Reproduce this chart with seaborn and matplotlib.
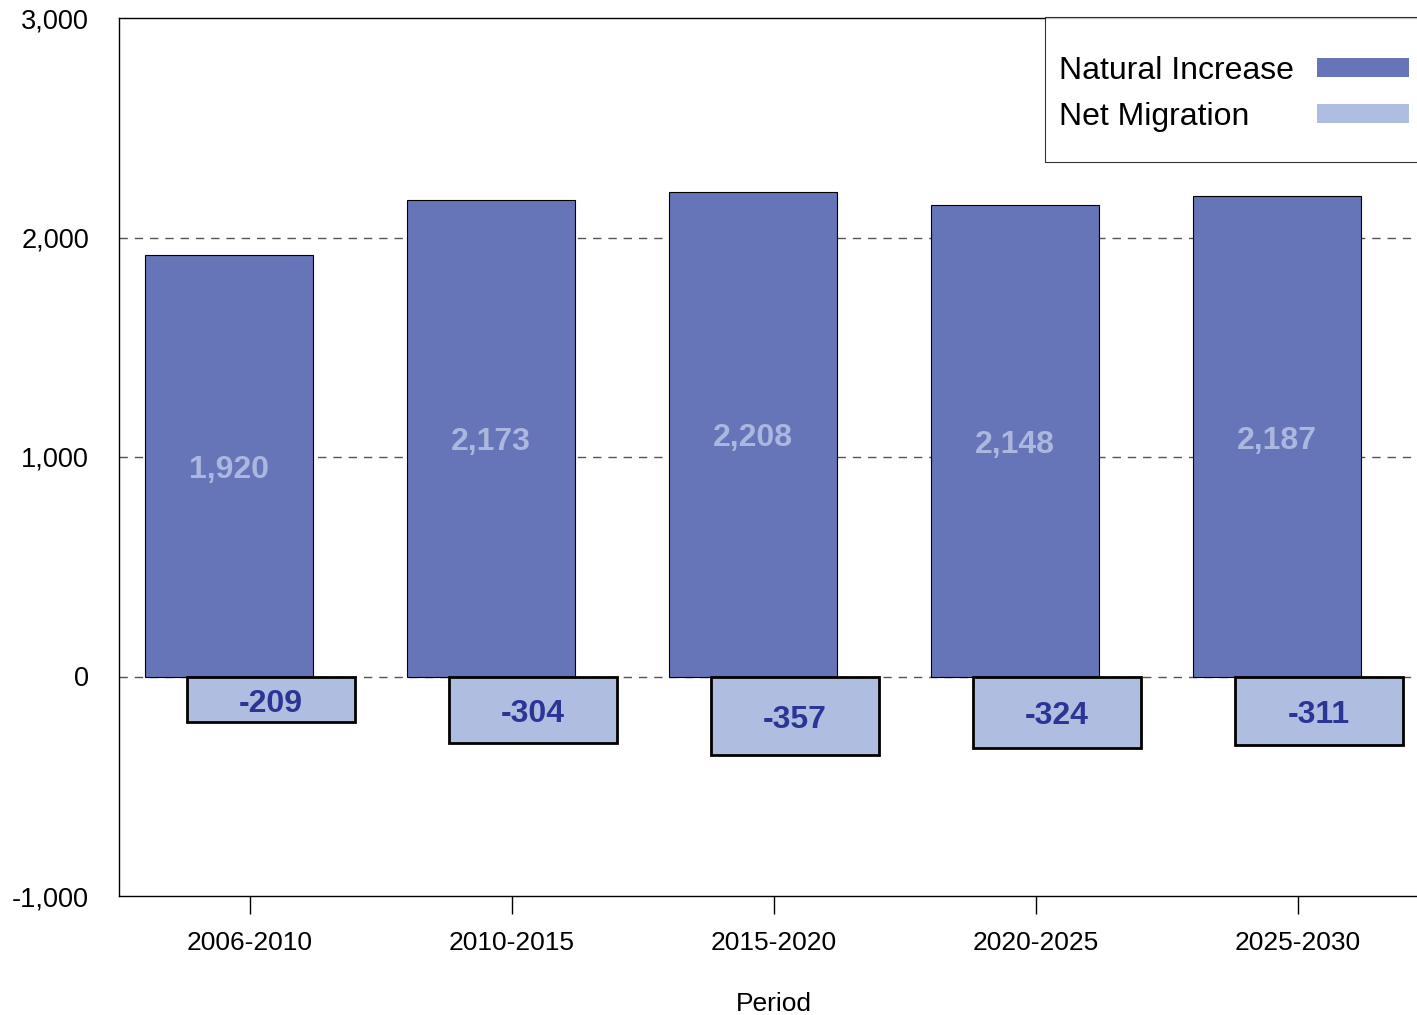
import numpy as np
import pandas as pd
import matplotlib
matplotlib.use("Agg")
import matplotlib.pyplot as plt
import matplotlib.patches as mpatches
from matplotlib.offsetbox import DrawingArea
from matplotlib.ticker import FuncFormatter
import seaborn as sns

# data
periods = ["2006-2010", "2010-2015", "2015-2020", "2020-2025", "2025-2030"]
natural_increase = [1920, 2173, 2208, 2148, 2187]
net_migration = [-209, -304, -357, -324, -311]

# colours
ni_color = "#6674B8"
nm_color = "#AEBDE0"
ni_label_color = "#AAB7DE"
nm_label_color = "#2B3595"

sns.set_style("white")
plt.rcParams["font.family"] = ["Liberation Sans", "DejaVu Sans"]
plt.rcParams["text.color"] = "black"
plt.rcParams["axes.labelcolor"] = "black"

DPI = 100
idx = np.arange(len(periods))
offset = 0.08  # the two series overlap, shifted either side of the tick
df = pd.DataFrame({
    "period": periods,
    "ni_pos": idx - offset,
    "nm_pos": idx + offset,
    "natural": natural_increase,
    "migration": net_migration,
})

fig = plt.figure(figsize=(14.17, 10.15), dpi=DPI)
ax = fig.add_axes([119 / 1417, 1 - 896 / 1015, 1310 / 1417, 878 / 1015])

# dashed grid behind bars
ax.set_axisbelow(True)
for yv in [0, 1000, 2000]:
    ax.axhline(yv, color="#555555", lw=1.0, ls=(0, (6, 5)), zorder=0)

sns.barplot(data=df, x="ni_pos", y="natural", native_scale=True, width=0.64,
            color=ni_color, saturation=1, edgecolor="black", linewidth=0.8,
            errorbar=None, ax=ax, zorder=2)
sns.barplot(data=df, x="nm_pos", y="migration", native_scale=True, width=0.64,
            color=nm_color, saturation=1, edgecolor="black", linewidth=2.0,
            errorbar=None, ax=ax, zorder=3)

# value labels in the middle of each bar
labs = ax.bar_label(ax.containers[0], labels=[f"{v:,}" for v in natural_increase],
                    label_type="center", color=ni_label_color, fontsize=23,
                    fontweight="bold")
labs += ax.bar_label(ax.containers[1], labels=[f"{v:,}" for v in net_migration],
                     label_type="center", color=nm_label_color, fontsize=23,
                     fontweight="bold")
for t in labs:
    t.xyann = (0, -3)

ax.set_xlim(-0.5, len(periods) - 0.5)
ax.set_ylim(-1000, 3000)
ax.set_yticks([-1000, 0, 1000, 2000, 3000])
ax.yaxis.set_major_formatter(FuncFormatter(lambda v, _: f"{v:,.0f}"))
ax.set_xticks(idx)
ax.set_xticklabels(periods)
ax.set_xlabel("Period", fontsize=19, labelpad=26)
ax.set_ylabel("")
ax.tick_params(axis="x", length=13, width=1, direction="out", pad=12.5,
               labelsize=19, colors="black", bottom=True)
ax.tick_params(axis="y", length=0, pad=21.5, labelsize=19.5, colors="black")

for side in ["left", "top", "bottom", "right"]:
    ax.spines[side].set_visible(True)
    ax.spines[side].set_color("black")
    ax.spines[side].set_linewidth(1.0)

handles = [mpatches.Patch(facecolor=ni_color, edgecolor="none", label="Natural Increase"),
           mpatches.Patch(facecolor=nm_color, edgecolor="none", label="Net Migration")]
leg = fig.legend(handles=handles, loc="upper left",
                 bbox_to_anchor=(1045 / 1417, 1 - 17 / 1015),
                 markerfirst=False, fontsize=23, frameon=True, fancybox=False,
                 borderpad=0.45, labelspacing=0.5, handlelength=2.9,
                 handleheight=0.56, handletextpad=0.7, borderaxespad=0)
leg.get_frame().set_edgecolor("black")
leg.get_frame().set_linewidth(0.8)
leg.get_frame().set_boxstyle("square", pad=0)

# left-align the legend texts while keeping the swatches in one column,
# and add extra room above and below the rows
fig.canvas.draw()
renderer = fig.canvas.get_renderer()
widths = [t.get_window_extent(renderer).width for t in leg.get_texts()]
column = leg._legend_handle_box.get_children()[0]
column.align = "left"
for item, w in zip(column.get_children(), widths):
    item.sep += (max(widths) - w) * 72 / DPI
column._children.insert(0, DrawingArea(0, 8.6 * 72 / DPI))
column._children.append(DrawingArea(0, 0))

fig.savefig("out.png", dpi=DPI)
